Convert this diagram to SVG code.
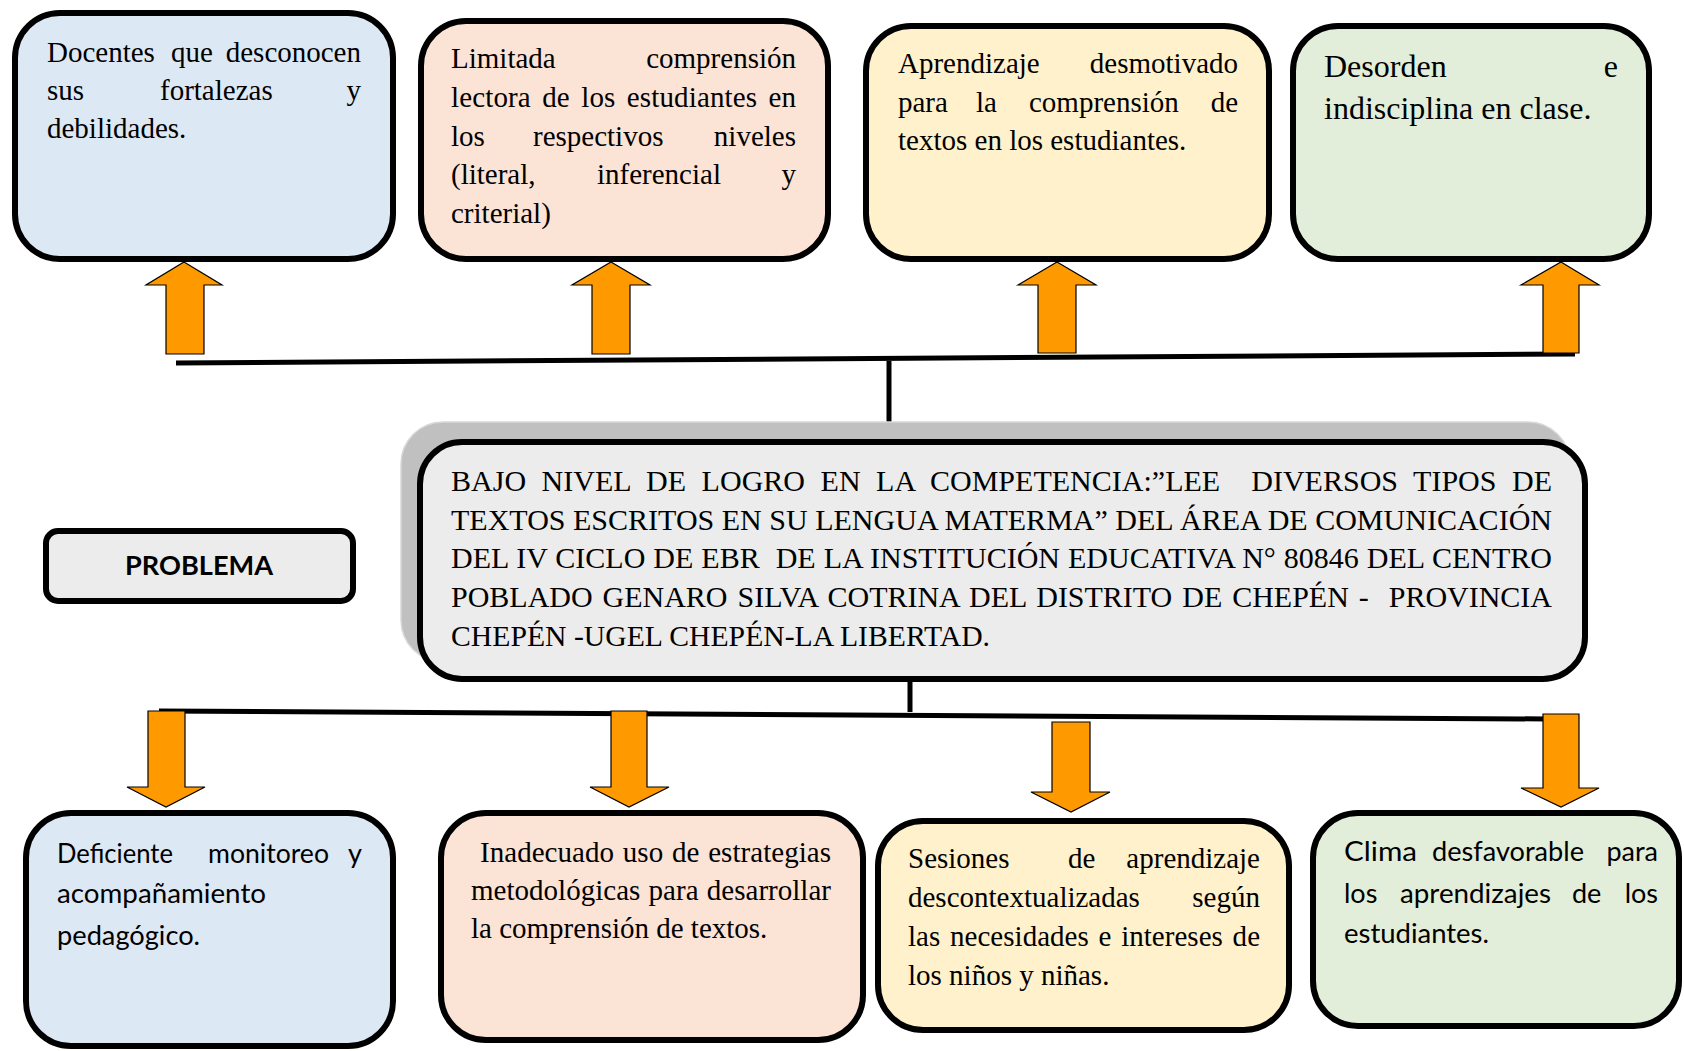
<svg xmlns="http://www.w3.org/2000/svg" width="1684" height="1051" viewBox="0 0 1684 1051">
<style>
.box{stroke:#000;stroke-width:6}
.blue{fill:#dde8f5}.pink{fill:#fbe3d6}.yellow{fill:#fff1cc}.green{fill:#e2eed9}.gray{fill:#ececec}
.serif{font-family:"Liberation Serif","Times New Roman",serif;font-size:29px;fill:#000}
.big{font-size:32px}
.main{font-size:30px}
.sans{font-family:Lato,"Liberation Sans",sans-serif;font-size:27px;fill:#000}
.bold{font-weight:bold}
.end{text-anchor:end}
.arrow{fill:#ff9900;stroke:#000;stroke-width:1.2}
.line{stroke:#000;stroke-width:5;fill:none}
</style>
<rect width="1684" height="1051" fill="#fff"/>
<g id="connectors">
  <line class="line" x1="176" y1="363" x2="1575" y2="354"/>
  <line class="line" x1="889" y1="361" x2="889" y2="440" stroke-width="4"/>
  <line class="line" x1="910" y1="682" x2="910" y2="712" stroke-width="4"/>
  <line class="line" x1="159" y1="711" x2="1547" y2="719"/>
  <polygon class="arrow" points="184,262 222,285 204,285 204,354 166,354 166,285 146,285"/>
  <polygon class="arrow" points="611,262 650,285 630,285 630,354 592,354 592,285 572,285"/>
  <polygon class="arrow" points="1057,262 1096,285 1076,285 1076,353 1038,353 1038,285 1018,285"/>
  <polygon class="arrow" points="1561,262 1599,285 1579,285 1579,353 1543,353 1543,285 1521,285"/>
  <polygon class="arrow" points="148,711 185,711 185,787 205,787 166,807 127,787 148,787"/>
  <polygon class="arrow" points="611,711 647,711 647,787 669,787 629,807 590,787 611,787"/>
  <polygon class="arrow" points="1052,722 1090,722 1090,792 1110,792 1071,812 1031,792 1052,792"/>
  <polygon class="arrow" points="1543,714 1579,714 1579,788 1599,788 1561,807 1521,788 1543,788"/>
</g>
<g id="node-docentes">
  <rect class="box blue" x="15" y="13" width="378" height="246" rx="45"/>
  <text class="serif" x="47" y="62">Docentes</text>
  <text class="serif" x="171" y="62">que</text>
  <text class="serif end" x="361" y="62">desconocen</text>
  <text class="serif" x="47" y="100">sus</text>
  <text class="serif" x="160" y="100">fortalezas</text>
  <text class="serif end" x="361" y="100">y</text>
  <text class="serif" x="47" y="138">debilidades.</text>
</g>
<g id="node-limitada">
  <rect class="box pink" x="421" y="21" width="407" height="238" rx="45"/>
  <text class="serif" x="451" y="68">Limitada</text>
  <text class="serif end" x="796" y="68">comprensión</text>
  <text class="serif" x="451" y="107" word-spacing="4" textLength="345" lengthAdjust="spacing">lectora de los estudiantes en</text>
  <text class="serif" x="451" y="146">los</text>
  <text class="serif" x="533" y="146">respectivos</text>
  <text class="serif end" x="796" y="146">niveles</text>
  <text class="serif" x="451" y="184">(literal,</text>
  <text class="serif" x="597" y="184">inferencial</text>
  <text class="serif end" x="796" y="184">y</text>
  <text class="serif" x="451" y="223">criterial)</text>
</g>
<g id="node-aprendizaje">
  <rect class="box yellow" x="866" y="26" width="403" height="233" rx="45"/>
  <text class="serif" x="898" y="73">Aprendizaje</text>
  <text class="serif end" x="1238" y="73">desmotivado</text>
  <text class="serif" x="898" y="112">para</text>
  <text class="serif" x="976" y="112">la</text>
  <text class="serif" x="1029" y="112">comprensión</text>
  <text class="serif end" x="1238" y="112">de</text>
  <text class="serif" x="898" y="150">textos en los estudiantes.</text>
</g>
<g id="node-desorden">
  <rect class="box green" x="1293" y="26" width="356" height="233" rx="45"/>
  <text class="serif big" x="1324" y="77">Desorden</text>
  <text class="serif big end" x="1618" y="77">e</text>
  <text class="serif big" x="1324" y="119">indisciplina en clase.</text>
</g>
<g id="node-problema-label">
  <rect class="box gray" x="46" y="531" width="307" height="70" rx="12"/>
  <text class="sans bold" x="199" y="575" text-anchor="middle" textLength="148" lengthAdjust="spacingAndGlyphs">PROBLEMA</text>
</g>
<g id="node-problema">
  <rect x="401" y="422" width="1169" height="240" rx="42" fill="#c0c0c0" stroke="#d8d8d8" stroke-width="1.5"/>
  <rect class="box gray" x="420" y="442" width="1165" height="237" rx="42"/>
  <text class="serif main" x="451" y="491" word-spacing="8" textLength="1101" lengthAdjust="spacing" xml:space="preserve">BAJO NIVEL DE LOGRO EN LA COMPETENCIA:”LEE  DIVERSOS TIPOS DE</text>
  <text class="serif main" x="451" y="530" textLength="1101" lengthAdjust="spacing">TEXTOS ESCRITOS EN SU LENGUA MATERMA” DEL ÁREA DE COMUNICACIÓN</text>
  <text class="serif main" x="451" y="568" word-spacing="0.5" textLength="1101" lengthAdjust="spacing" xml:space="preserve">DEL IV CICLO DE EBR  DE LA INSTITUCIÓN EDUCATIVA N° 80846 DEL CENTRO</text>
  <text class="serif main" x="451" y="607" word-spacing="2.5" textLength="1101" lengthAdjust="spacing" xml:space="preserve">POBLADO GENARO SILVA COTRINA DEL DISTRITO DE CHEPÉN -  PROVINCIA</text>
  <text class="serif main" x="451" y="646" textLength="539" lengthAdjust="spacingAndGlyphs">CHEPÉN -UGEL CHEPÉN-LA LIBERTAD.</text>
</g>
<g id="node-deficiente">
  <rect class="box blue" x="26" y="813" width="367" height="233" rx="45"/>
  <text class="sans" x="57" y="863" textLength="116" lengthAdjust="spacingAndGlyphs">Deficiente</text>
  <text class="sans" x="208" y="863" textLength="121" lengthAdjust="spacingAndGlyphs">monitoreo</text>
  <text class="sans end" x="362" y="863">y</text>
  <text class="sans" x="57" y="903" textLength="209" lengthAdjust="spacingAndGlyphs">acompañamiento</text>
  <text class="sans" x="57" y="945" textLength="143" lengthAdjust="spacingAndGlyphs">pedagógico.</text>
</g>
<g id="node-inadecuado">
  <rect class="box pink" x="441" y="813" width="422" height="227" rx="45"/>
  <text class="serif" x="480" y="862" word-spacing="1.5" textLength="351" lengthAdjust="spacing">Inadecuado uso de estrategias</text>
  <text class="serif" x="471" y="900" word-spacing="1" textLength="360" lengthAdjust="spacing">metodológicas para desarrollar</text>
  <text class="serif" x="471" y="938">la comprensión de textos.</text>
</g>
<g id="node-sesiones">
  <rect class="box yellow" x="878" y="821" width="411" height="209" rx="45"/>
  <text class="serif" x="908" y="868">Sesiones</text>
  <text class="serif" x="1068" y="868">de</text>
  <text class="serif end" x="1260" y="868">aprendizaje</text>
  <text class="serif" x="908" y="907">descontextualizadas</text>
  <text class="serif end" x="1260" y="907">según</text>
  <text class="serif" x="908" y="946" word-spacing="2.5" textLength="352" lengthAdjust="spacing">las necesidades e intereses de</text>
  <text class="serif" x="908" y="985">los niños y niñas.</text>
</g>
<g id="node-clima">
  <rect class="box green" x="1313" y="813" width="366" height="213" rx="45"/>
  <text class="sans" x="1344" y="861" textLength="73" lengthAdjust="spacingAndGlyphs">Clima</text>
  <text class="sans" x="1432" y="861" textLength="152" lengthAdjust="spacingAndGlyphs">desfavorable</text>
  <text class="sans end" x="1658" y="861">para</text>
  <text class="sans" x="1344" y="903">los</text>
  <text class="sans" x="1400" y="903" textLength="151" lengthAdjust="spacingAndGlyphs">aprendizajes</text>
  <text class="sans" x="1572" y="903">de</text>
  <text class="sans end" x="1658" y="903">los</text>
  <text class="sans" x="1344" y="943" textLength="145" lengthAdjust="spacingAndGlyphs">estudiantes.</text>
</g>
</svg>
